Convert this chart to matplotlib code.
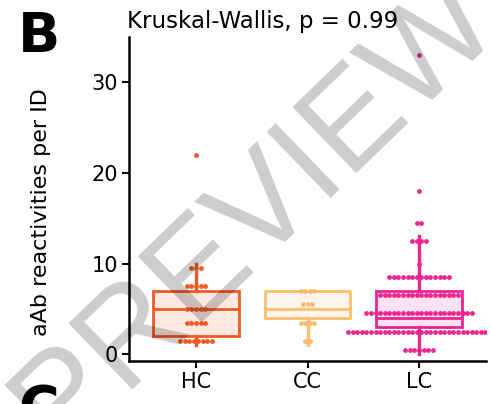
import matplotlib

matplotlib.use("Agg")

import matplotlib.pyplot as plt
import numpy as np
from matplotlib.colors import to_rgba

GROUPS = ["HC", "CC", "LC"]
COLORS = ["#F15A24", "#FDBF6F", "#EC268F"]

# aAb reactivities per individual
HC_VALUES = [1] * 3 + [2] * 5 + [3] * 2 + [4] * 3 + [5] * 5 + [7] * 3 + [8] * 2 + [9] + [10] * 2 + [22]
CC_VALUES = [1, 2, 3, 4, 4, 4, 5, 5, 6, 7, 7, 7, 7]
LC_VALUES = (
    [0] * 3 + [1] * 4 + [2] * 14 + [3] * 18 + [4] * 16 + [5] * 8 + [6] * 10 + [7] * 8
    + [8] * 8 + [9] * 6 + [10] + [12] * 2 + [13] * 2 + [14] + [15] + [18] + [33]
)
P_VALUE = 0.99

BINWIDTH = 2.0
DOT_STEP = 0.041  # horizontal spacing of stacked dots, in category units


def dot_bins(values, binwidth):
    """Dot-density binning: each bin starts at its first value, centre = mid of min/max."""
    vals = np.sort(np.asarray(values, dtype=float))
    bins = []
    end = -np.inf
    for v in vals:
        if v >= end:
            bins.append([v])
            end = v + binwidth
        else:
            bins[-1].append(v)
    return [((min(b) + max(b)) / 2, len(b)) for b in bins]


plt.rcParams["font.family"] = "DejaVu Sans"

fig = plt.figure(figsize=(4.91, 4.04), dpi=100)
ax = fig.add_axes([129 / 491, 43 / 404, 357 / 491, 324.3 / 404])

data = [HC_VALUES, CC_VALUES, LC_VALUES]
for pos, (vals, color) in enumerate(zip(data, COLORS)):
    xs, ys = [], []
    for center, n in dot_bins(vals, BINWIDTH):
        offs = (np.arange(n) - (n - 1) / 2) * DOT_STEP
        xs.extend(pos + offs)
        ys.extend([center] * n)
    ax.scatter(xs, ys, s=12, color=color, linewidths=0, zorder=2)

bp = ax.boxplot(
    data,
    positions=range(len(GROUPS)),
    widths=0.77,
    showfliers=False,
    showcaps=False,
    patch_artist=True,
    whis=1.5,
    zorder=3,
)
for i, color in enumerate(COLORS):
    bp["boxes"][i].set(facecolor=to_rgba(color, 0.13), edgecolor=color, linewidth=2.0)
    bp["medians"][i].set(color=color, linewidth=2.0)
    for w in bp["whiskers"][2 * i:2 * i + 2]:
        w.set(color=color, linewidth=2.4)

ax.set_xlim(-0.6, 2.6)
ax.set_ylim(-0.74, 35.0)
ax.set_xticks(range(len(GROUPS)))
ax.set_xticklabels(GROUPS)
ax.set_yticks([0, 10, 20, 30])
ax.tick_params(length=4.8, width=1.5, pad=3, labelsize=15, color="black")
for side in ("top", "right"):
    ax.spines[side].set_visible(False)
for side in ("left", "bottom"):
    ax.spines[side].set_linewidth(1.8)

ax.set_title(f"Kruskal-Wallis, p = {P_VALUE}", loc="left", fontsize=16.5, pad=6, x=-0.006)

fig.text(41 / 491, 1 - 212.5 / 404, "aAb reactivities per ID", rotation=90,
         ha="center", va="center", fontsize=16)

# panel letters
fig.text(18 / 491, 1 - 51.7 / 404, "B", fontsize=40, fontweight="bold", va="baseline")
fig.text(18 / 491, -21 / 404, "C", fontsize=40, fontweight="bold", va="baseline")

# watermark
fig.text(255 / 491, 1 - 212 / 404, "PREVIEW", rotation=44, fontsize=96,
         family="Liberation Sans", color="black", alpha=0.2,
         ha="center", va="center", zorder=10)

fig.savefig("out.png", dpi=100)
